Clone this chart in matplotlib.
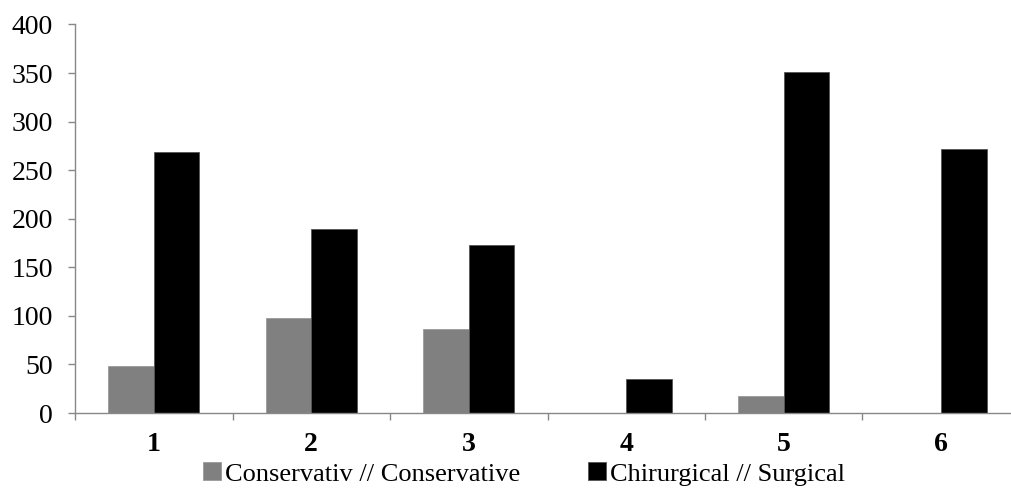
import numpy as np
import matplotlib
matplotlib.use('Agg')
import matplotlib.pyplot as plt
from matplotlib.ticker import FixedLocator

# data
categories = ['1', '2', '3', '4', '5', '6']
conservative = [48, 98, 86, 0, 17, 0]
surgical = [269, 189, 173, 35, 351, 272]
series_names = ['Conservativ // Conservative', 'Chirurgical // Surgical']

plt.rcParams['font.family'] = ['Liberation Serif', 'DejaVu Serif']

fig = plt.figure(figsize=(10.12, 4.9), dpi=100)
ax = fig.add_axes([75/1012, 1 - 413/490, 937/1012, (413 - 24.5)/490])

x = np.arange(len(categories))
w = 0.29
b1 = ax.bar(x - w/2, conservative, w, color='#808080', edgecolor='#9a9a9a', linewidth=0.6,
            label=series_names[0])
b2 = ax.bar(x + w/2, surgical, w, color='black', edgecolor='#555555', linewidth=0.6,
            label=series_names[1])

ax.set_xlim(-0.5, -0.5 + 937/157.5)
ax.set_ylim(0, 400)
ax.set_yticks(np.arange(0, 401, 50))
ax.tick_params(axis='y', labelsize=20, length=5, width=1, color='#888888', pad=11)

# tick marks between groups, labels under group centres
ax.xaxis.set_major_locator(FixedLocator(np.arange(-0.5, 6.5, 1)))
ax.xaxis.set_minor_locator(FixedLocator(x))
ax.set_xticklabels([])
ax.set_xticklabels(categories, minor=True, fontweight='bold', fontsize=20)
ax.tick_params(axis='x', which='major', length=5, width=1, color='#888888')
ax.tick_params(axis='x', which='minor', length=0, pad=14)

for s in ['top', 'right']:
    ax.spines[s].set_visible(False)
for s in ['left', 'bottom']:
    ax.spines[s].set_color('#888888')
    ax.spines[s].set_linewidth(1)

fig.legend(handles=[b1, b2], labels=series_names, loc='center',
           bbox_to_anchor=(524/1012, 1 - 474/490), ncol=2, frameon=False,
           fontsize=19, handlelength=0.65, handleheight=0.65, handletextpad=0.15,
           columnspacing=2.6, borderpad=0)

fig.savefig('out.png', dpi=100)
